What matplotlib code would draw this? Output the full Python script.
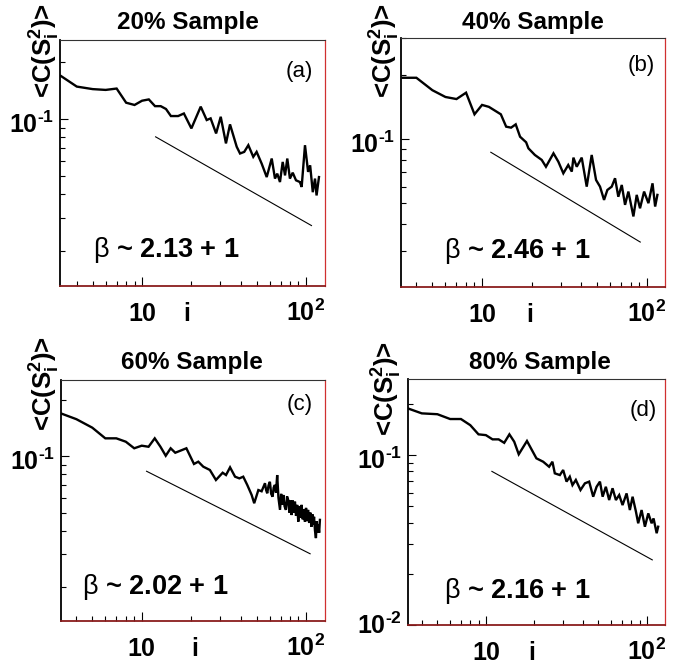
import numpy as np
import matplotlib
matplotlib.use('Agg')
import matplotlib.pyplot as plt
from matplotlib.ticker import LogLocator, FixedLocator, NullFormatter
from matplotlib.transforms import blended_transform_factory, offset_copy

plt.rcParams['font.family'] = ['Liberation Sans', 'DejaVu Sans']
plt.rcParams['mathtext.fontset'] = 'custom'
plt.rcParams['mathtext.rm'] = 'Liberation Sans:bold'
plt.rcParams['mathtext.bf'] = 'Liberation Sans:bold'
plt.rcParams['mathtext.it'] = 'Liberation Sans:italic'
plt.rcParams['mathtext.sf'] = 'Liberation Sans'

# ---------------- data ----------------
titles = ['20% Sample', '40% Sample', '60% Sample', '80% Sample']
letters = ['(a)', '(b)', '(c)', '(d)']
betas = ['2.13', '2.46', '2.02', '2.16']

i_a = [3.2, 4, 5, 6, 7, 8, 9, 10, 11, 12, 13, 14, 15, 16.6, 18, 20, 22.8, 24.8, 26.2, 28.3,
       30.2, 32.5, 34.4, 37.8, 39.6, 42, 44.5, 47.7, 50, 53.7, 57.6, 61.8, 64.7, 66.8, 69.4,
       72.1, 74.5, 76.9, 79.8, 83, 86.9, 91.8, 94.1, 98.6, 103, 106, 110, 113.5, 116, 120]
c_a = [0.169, 0.1485, 0.144, 0.1426, 0.145, 0.122, 0.1187, 0.125, 0.127, 0.117, 0.117, 0.113,
       0.1037, 0.1037, 0.107, 0.0892, 0.1163, 0.0988, 0.1008, 0.0839, 0.1028, 0.0743, 0.0937,
       0.0713, 0.0657, 0.067, 0.0727, 0.0631, 0.067, 0.058, 0.0493, 0.0618, 0.0484, 0.0514,
       0.0464, 0.0593, 0.0503, 0.0618, 0.0484, 0.052, 0.0474, 0.0464, 0.0437, 0.0727, 0.0525,
       0.0569, 0.041, 0.0484, 0.0394, 0.0493]

i_b = [3.3, 4, 5, 6, 7, 8, 9, 10, 11, 13, 14, 15, 16, 17, 18.5, 19.1, 20.9, 23, 24.4, 27.1,
       29, 31.1, 33.3, 35, 35.8, 37.5, 40.2, 43.1, 46.2, 49.1, 51.9, 54.9, 57.5, 61.1, 64,
       67, 70.3, 73.6, 77.1, 82.7, 86.6, 90.7, 96, 102, 108, 112, 115.6]
c_b = [0.1945, 0.1945, 0.170, 0.158, 0.1545, 0.1655, 0.131, 0.145, 0.142, 0.131, 0.1146,
       0.1134, 0.1175, 0.1028, 0.0968, 0.0907, 0.0844, 0.080, 0.0743, 0.0859, 0.0785, 0.0692,
       0.0757, 0.0705, 0.082, 0.0743, 0.082, 0.0599, 0.0844, 0.0644, 0.0599, 0.0519, 0.0578,
       0.0599, 0.0656, 0.0537, 0.061, 0.0492, 0.0568, 0.0434, 0.0548, 0.0474, 0.0568, 0.0501,
       0.0621, 0.0483, 0.0548]

i_c = [3.2, 4, 5, 6, 7, 8, 9, 10, 11, 12, 13, 14, 15, 16, 18.7, 20.8, 22.1, 23.7, 26, 28.3,
       31.1, 32.6, 34.5, 37, 39.3, 41.5, 43.9, 46.7, 48.4, 51.3, 53.7, 56.3, 57.2, 58.1, 59.2,
       60.3, 61.4, 62.6, 63.6, 64.7, 65.7, 66.8, 68, 69.5, 70.6, 71.7, 72.8, 74.1, 75.5, 76.7,
       78, 79.3, 80.5, 81.8, 83.1, 84.4, 85.7, 87, 88.4, 89.8, 91.2, 92.6, 94.1, 95.6, 97.1,
       98.6, 100.1, 101.6, 103, 104.6, 106.3, 108, 109.4, 110.7, 112, 113.5, 115, 116.3,
       117.7, 119, 120.3, 121.6]
c_c = [0.170, 0.158, 0.1423, 0.1248, 0.1248, 0.1197, 0.1104, 0.114, 0.1125, 0.1248, 0.1125,
       0.1007, 0.1104, 0.1045, 0.1104, 0.091, 0.0936, 0.088, 0.0845, 0.0747, 0.0817, 0.0794,
       0.0873, 0.0778, 0.0762, 0.0778, 0.0703, 0.0621, 0.0561, 0.066, 0.065, 0.0718, 0.066,
       0.0634, 0.070, 0.0731, 0.063, 0.0608, 0.068, 0.0703, 0.064, 0.0794, 0.060, 0.0517,
       0.063, 0.055, 0.0621, 0.054, 0.0517, 0.061, 0.0583, 0.050, 0.058, 0.0485, 0.058, 0.050,
       0.0572, 0.048, 0.055, 0.0447, 0.054, 0.047, 0.055, 0.046, 0.052, 0.0447, 0.053, 0.045,
       0.0517, 0.044, 0.050, 0.042, 0.049, 0.043, 0.0475, 0.040, 0.0365, 0.045, 0.039, 0.043,
       0.039, 0.0457]

i_d = [3.27, 4, 5, 6, 7, 8, 9, 10, 11, 12, 13, 14, 15, 16, 18, 20.6, 22.7, 24.7, 25.9, 26.8,
       28.8, 30.2, 31.7, 33.2, 34.5, 36.2, 38.7, 41.2, 43.8, 46.4, 48.7, 51.1, 53.1, 55.6,
       58.3, 61.2, 64.2, 67.3, 70.6, 74.8, 78.4, 81.5, 85.5, 88.3, 92.7, 97.2, 102, 107, 110,
       115, 117.5]
c_d = [0.1884, 0.176, 0.174, 0.163, 0.163, 0.150, 0.1324, 0.131, 0.1237, 0.1237, 0.118,
       0.1324, 0.1198, 0.101, 0.121, 0.0956, 0.0913, 0.0853, 0.0913, 0.078, 0.0762, 0.0816,
       0.0697, 0.0745, 0.0665, 0.0713, 0.0622, 0.0681, 0.0697, 0.0568, 0.065, 0.0697, 0.0568,
       0.065, 0.0543, 0.0637, 0.0543, 0.0581, 0.0507, 0.0594, 0.0474, 0.0568, 0.0464, 0.0396,
       0.0474, 0.0378, 0.0453, 0.0396, 0.0423, 0.0346, 0.0378]

fit_i_a = [12.1, 108];  fit_c_a = [0.0805, 0.0273]
fit_i_b = [11.3, 91];   fit_c_b = [0.0869, 0.0329]
fit_i_c = [10.7, 106];  fit_c_c = [0.0832, 0.0301]
fit_i_d = [10.9, 108];  fit_c_d = [0.0801, 0.0241]

xtick_vals = [10, 100]
xtick_labels = ['10', r'$\mathbf{10^{2}}$']
ylab_m1 = r'$\mathbf{10^{\text{-}1}}$'
ylab_m2 = r'$\mathbf{10^{\text{-}2}}$'

# ---------------- layout ----------------
W, H = 684, 666
fig = plt.figure(figsize=(W / 100, H / 100), dpi=100)

panels = [
    dict(rect=(60, 40, 325, 286), xlim=(3.16, 130.6), ylim=(0.01307, 0.262),
         yt=[0.1], ytl=[ylab_m1], yoff=[-14],
         i=i_a, c=c_a, fi=fit_i_a, fc=fit_c_a,
         title_xy=(188, 22), ylab_x=45, ylab_top=3,
         letter_xy=(0.955, 0.872), beta_xy=(0.123, 0.146), ilab=0.479),
    dict(rect=(401.3, 37.7, 664.7, 286.7), xlim=(3.24, 128), ylim=(0.0203, 0.300),
         yt=[0.1], ytl=[ylab_m1], yoff=[-14],
         i=i_b, c=c_b, fi=fit_i_b, fc=fit_c_b,
         title_xy=(533, 22), ylab_x=385, ylab_top=3,
         letter_xy=(0.963, 0.89), beta_xy=(0.161, 0.145), ilab=0.489),
    dict(rect=(60.7, 379.7, 325, 621.3), xlim=(3.21, 130.6), ylim=(0.0131, 0.257),
         yt=[0.1], ytl=[ylab_m1], yoff=[-14],
         i=i_c, c=c_c, fi=fit_i_c, fc=fit_c_c,
         title_xy=(192, 362), ylab_x=45, ylab_top=336,
         letter_xy=(0.955, 0.897), beta_xy=(0.079, 0.142), ilab=0.508),
    dict(rect=(407.7, 379, 664.7, 624.7), xlim=(3.27, 129), ylim=(0.01, 0.2806),
         yt=[0.01, 0.1], ytl=[ylab_m2, ylab_m1], yoff=[-9, -14],
         i=i_d, c=c_d, fi=fit_i_d, fc=fit_c_d,
         title_xy=(540, 363), ylab_x=387, ylab_top=341,
         letter_xy=(0.97, 0.872), beta_xy=(0.14, 0.139), ilab=0.484),
]

for k, p in enumerate(panels):
    x0, y0, x1, y1 = p['rect']
    ax = fig.add_axes([x0 / W, 1 - y1 / H, (x1 - x0) / W, (y1 - y0) / H])
    ax.set_xscale('log')
    ax.set_yscale('log')
    ax.plot(p['i'], p['c'], color='black', lw=1.7, solid_joinstyle='miter')
    ax.plot(p['fi'], p['fc'], color='black', lw=0.8)
    ax.set_xlim(*p['xlim'])
    ax.set_ylim(*p['ylim'])

    ax.xaxis.set_major_locator(FixedLocator(xtick_vals))
    ax.xaxis.set_minor_locator(LogLocator(base=10, subs=np.arange(2, 10), numticks=20))
    ax.yaxis.set_major_locator(FixedLocator(p['yt']))
    ax.yaxis.set_minor_locator(LogLocator(base=10, subs=np.arange(2, 10), numticks=20))
    ax.xaxis.set_minor_formatter(NullFormatter())
    ax.yaxis.set_minor_formatter(NullFormatter())
    ax.tick_params(which='both', direction='in', top=False, right=False,
                   labelbottom=False, labelleft=False, width=0.8, color='black')
    ax.xaxis.set_tick_params(which='major', length=6.5)
    ax.xaxis.set_tick_params(which='minor', length=3.3)
    ax.yaxis.set_tick_params(which='major', length=6.0)
    ax.yaxis.set_tick_params(which='minor', length=3.6)

    ax.spines['left'].set_linewidth(1.3)
    ax.spines['left'].set_color('black')
    ax.spines['top'].set_linewidth(0.8)
    ax.spines['top'].set_color('#333333')
    ax.spines['right'].set_linewidth(0.9)
    ax.spines['right'].set_color('#d03030')
    ax.spines['bottom'].set_linewidth(1.3)
    ax.spines['bottom'].set_color('#8a1c1c')

    # tick labels
    bt = blended_transform_factory(ax.transData, ax.transAxes)
    for xv, lab in zip(xtick_vals, xtick_labels):
        ax.text(xv, 0, lab, transform=offset_copy(bt, fig=fig, x=0, y=-35, units='dots'),
                ha='center', va='baseline', fontsize=18, fontweight='bold')
    ax.text(p['ilab'], 0, 'i',
            transform=offset_copy(ax.transAxes, fig=fig, x=0, y=-35, units='dots'),
            ha='center', va='baseline', fontsize=18, fontweight='bold')
    bty = blended_transform_factory(ax.transAxes, ax.transData)
    for yv, lab, off in zip(p['yt'], p['ytl'], p['yoff']):
        ax.text(0, yv, lab, transform=offset_copy(bty, fig=fig, x=-6, y=off, units='dots'),
                ha='right', va='baseline', fontsize=18, fontweight='bold')

    # panel texts
    ax.text(*p['letter_xy'], letters[k], transform=ax.transAxes, ha='right', va='center',
            fontsize=16)
    ax.text(*p['beta_xy'], r'$\mathsf{\beta}$ ~ ' + betas[k] + ' + 1', transform=ax.transAxes,
            ha='left', va='center', fontsize=19.5, fontweight='bold')

    tx, ty = p['title_xy']
    fig.text(tx / W, 1 - ty / H, titles[k], ha='center', va='center', fontsize=17.5,
             fontweight='bold')
    fig.text(p['ylab_x'] / W, 1 - p['ylab_top'] / H, r'<C(S$\mathbf{{}^{2}_{i}}$)>',
             rotation=90, ha='center', va='top', fontsize=18.5, fontweight='bold')

fig.savefig('out.png', dpi=100)
